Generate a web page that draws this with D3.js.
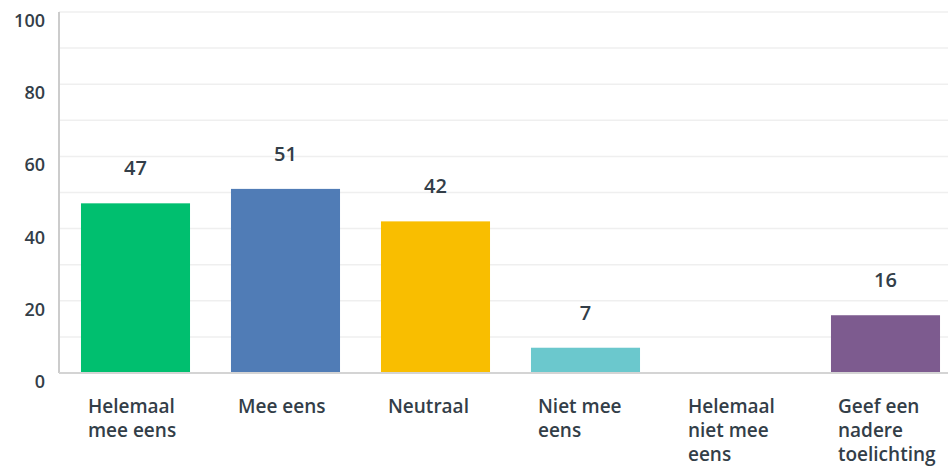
<!DOCTYPE html>
<html>
<head>
<meta charset="utf-8">
<script src="https://cdn.jsdelivr.net/npm/d3@7"></script>
<style>
  body { margin: 0; background: #fff; }
  svg { display: block; font-family: "Open Sans", "Noto Sans", sans-serif; }
</style>
</head>
<body>
<div id="chart"></div>
<script>
// Categories and values
const categories = [
    ["Helemaal", "mee eens"],
    ["Mee eens"],
    ["Neutraal"],
    ["Niet mee", "eens"],
    ["Helemaal", "niet mee", "eens"],
    ["Geef een", "nadere", "toelichting"]
];
const values = [47, 51, 42, 7, 0, 16];
const colors = ["#00bf6f", "#507cb6", "#f9be00", "#6bc8cd", "#ff8b4f", "#7d5b8f"];
const yTicks = [0, 20, 40, 60, 80, 100];
const gridTicks = [10, 30, 50, 70, 90];

const width = 948;
const height = 467;
const axisX = 59;
const plotTop = 12;
const baseline = 373;

const svg = d3.select("#chart")
    .append("svg")
    .attr("width", width)
    .attr("height", height);

const x = d3.scaleBand()
    .domain(d3.range(categories.length))
    .range([60.5, 960.5])
    .paddingInner(0.273)
    .paddingOuter(0.1365);

const y = d3.scaleLinear()
    .domain([0, 100])
    .range([baseline, plotTop]);

// Grid lines
svg.append("g")
    .selectAll("line")
    .data(yTicks.filter(d => d > 0).concat(gridTicks))
    .enter().append("line")
    .attr("x1", axisX)
    .attr("x2", width)
    .attr("y1", d => y(d))
    .attr("y2", d => y(d))
    .attr("stroke", "#efefef")
    .attr("stroke-width", 1.5);

// Y tick labels
svg.append("g")
    .selectAll("text")
    .data(yTicks)
    .enter().append("text")
    .attr("x", 45)
    .attr("y", d => y(d) + 15)
    .attr("text-anchor", "end")
    .attr("font-size", "18px")
    .attr("font-weight", 600)
    .attr("fill", "#333e48")
    .text(d => d);

// Bars
svg.append("g")
    .selectAll("rect")
    .data(values)
    .enter().append("rect")
    .attr("x", (d, i) => x(i))
    .attr("y", d => y(d))
    .attr("width", x.bandwidth())
    .attr("height", d => baseline - y(d))
    .attr("fill", (d, i) => colors[i]);

// Axis lines
svg.append("line")
    .attr("x1", axisX).attr("x2", axisX)
    .attr("y1", plotTop).attr("y2", baseline)
    .attr("stroke", "#cccccc")
    .attr("stroke-width", 2);

svg.append("line")
    .attr("x1", axisX).attr("x2", width)
    .attr("y1", baseline).attr("y2", baseline)
    .attr("stroke", "#d4d4d4")
    .attr("stroke-width", 2);

// Value labels
svg.append("g")
    .selectAll("text")
    .data(values.map((v, i) => ({ v, i })).filter(d => d.v > 0))
    .enter().append("text")
    .attr("x", d => x(d.i) + x.bandwidth() / 2)
    .attr("y", d => y(d.v) - 28)
    .attr("text-anchor", "middle")
    .attr("font-size", "20px")
    .attr("font-weight", 600)
    .attr("fill", "#333e48")
    .text(d => d.v);

// Category labels
const catLabels = svg.append("g")
    .selectAll("text")
    .data(categories)
    .enter().append("text")
    .attr("x", (d, i) => x(i) + 7)
    .attr("y", 413)
    .attr("font-size", "19px")
    .attr("font-weight", 600)
    .attr("fill", "#333e48");

catLabels.selectAll("tspan")
    .data(d => d)
    .enter().append("tspan")
    .attr("x", function () { return d3.select(this.parentNode).attr("x"); })
    .attr("dy", (d, i) => i === 0 ? 0 : 24)
    .text(d => d);
</script>
</body>
</html>
